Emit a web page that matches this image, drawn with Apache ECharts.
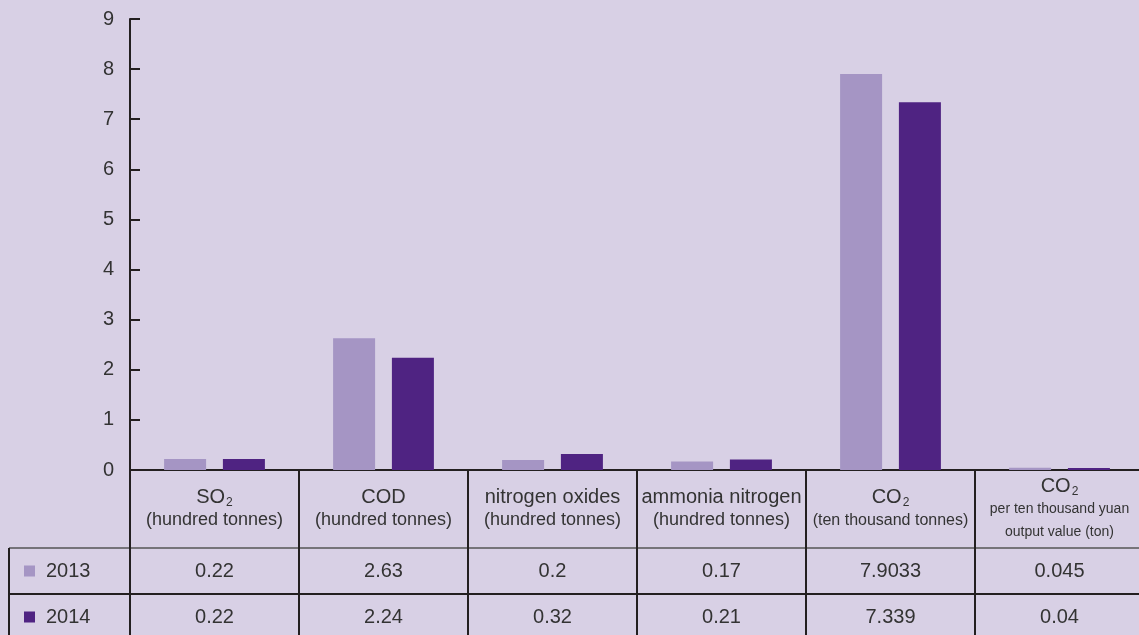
<!DOCTYPE html>
<html>
<head>
<meta charset="utf-8">
<script src="https://cdn.jsdelivr.net/npm/echarts@6/dist/echarts.min.js"></script>
<style>
html,body{margin:0;padding:0;background:#d8d0e5;}
#c{width:1139px;height:635px;}
</style>
</head>
<body>
<div id="c"></div>
<script>
// ---- data ----
const categoryKeys = ['SO2', 'COD', 'NOx', 'NH3-N', 'CO2', 'CO2 intensity'];
const categoryMain = ['SO', 'COD', 'nitrogen oxides', 'ammonia nitrogen', 'CO', 'CO'];
const categorySub = ['2', '', '', '', '2', '2'];
const categoryUnits = ['(hundred tonnes)', '(hundred tonnes)', '(hundred tonnes)', '(hundred tonnes)', '(ten thousand tonnes)', 'per ten thousand yuan\noutput value (ton)'];
const seriesNames = ['2013', '2014'];
const values2013 = [0.22, 2.63, 0.2, 0.17, 7.9033, 0.045];
const values2014 = [0.22, 2.24, 0.32, 0.21, 7.339, 0.04];
const yMin = 0, yMax = 9, yInterval = 1;

// ---- styles ----
const TXT = '#333333';
const LINE = '#231f20';
const FONT = '"Liberation Sans", Arial, sans-serif';
const C2013 = '#a595c4';
const C2014 = '#4f2382';

const unitStyleFor = function (i) {
  if (i === 5) return 'ux';
  if (i === 4) return 'us';
  return 'u';
};

const chart = echarts.init(document.getElementById('c'));
chart.setOption({
  backgroundColor: '#d8d0e5',
  textStyle: { fontFamily: FONT },
  animation: false,
  grid: { left: 130, right: -5, top: 19, bottom: 165, outerBoundsMode: 'none', containLabel: false },
  legend: [
    {
      data: [seriesNames[0]], left: 24, top: 561, padding: 0, icon: 'rect',
      itemWidth: 11, itemHeight: 11,
      textStyle: { fontSize: 20, color: TXT, fontFamily: FONT, padding: [0, 0, 0, 6] },
      selectedMode: false
    },
    {
      data: [seriesNames[1]], left: 24, top: 607, padding: 0, icon: 'rect',
      itemWidth: 11, itemHeight: 11,
      textStyle: { fontSize: 20, color: TXT, fontFamily: FONT, padding: [0, 0, 0, 6] },
      selectedMode: false
    }
  ],
  xAxis: [
    {
      type: 'category', data: categoryKeys, position: 'bottom',
      axisLine: { show: true, lineStyle: { color: LINE, width: 2 } },
      axisTick: { show: true, length: 78, interval: 0, lineStyle: { color: LINE, width: 2 } },
      axisLabel: {
        interval: 0, margin: 39, verticalAlign: 'middle', align: 'center',
        formatter: function (v, i) {
          const main = '{m|' + categoryMain[i] + '}' + (categorySub[i] ? '{s|' + categorySub[i] + '}' : '');
          const st = unitStyleFor(i);
          const units = categoryUnits[i].split('\n').map(function (t) { return '{' + st + '|' + t + '}'; }).join('\n');
          return main + '\n' + units;
        },
        rich: {
          m: { fontSize: 20, color: TXT, lineHeight: 23, fontFamily: FONT },
          s: { fontSize: 12, color: TXT, lineHeight: 23, verticalAlign: 'bottom', fontFamily: FONT, padding: [0, 0, 0, 1] },
          u: { fontSize: 18, color: TXT, lineHeight: 23, fontFamily: FONT },
          us: { fontSize: 16, color: TXT, lineHeight: 23, fontFamily: FONT },
          ux: { fontSize: 14, color: TXT, lineHeight: 23, fontFamily: FONT }
        }
      },
      splitLine: { show: false }
    },
    {
      type: 'category', data: categoryKeys, position: 'bottom', offset: 78,
      axisLine: { show: true, lineStyle: { color: '#555555', width: 1.5 } },
      axisTick: { show: true, length: 46, interval: 0, lineStyle: { color: LINE, width: 2 } },
      axisLabel: {
        interval: 0, margin: 23, verticalAlign: 'middle', fontSize: 20, color: TXT, fontFamily: FONT,
        formatter: function (v, i) { return String(values2013[i]); }
      },
      splitLine: { show: false }
    },
    {
      type: 'category', data: categoryKeys, position: 'bottom', offset: 124,
      axisLine: { show: true, lineStyle: { color: LINE, width: 2 } },
      axisTick: { show: true, length: 46, interval: 0, lineStyle: { color: LINE, width: 2 } },
      axisLabel: {
        interval: 0, margin: 23, verticalAlign: 'middle', fontSize: 20, color: TXT, fontFamily: FONT,
        formatter: function (v, i) { return String(values2014[i]); }
      },
      splitLine: { show: false }
    }
  ],
  yAxis: {
    type: 'value', min: yMin, max: yMax, interval: yInterval,
    axisLine: { show: true, lineStyle: { color: LINE, width: 2 } },
    axisTick: { show: true, inside: true, length: 10, lineStyle: { color: LINE, width: 2 } },
    axisLabel: { fontSize: 20, color: TXT, margin: 16, fontFamily: FONT },
    splitLine: { show: false }
  },
  graphic: [
    { type: 'line', shape: { x1: 9, y1: 548, x2: 130, y2: 548 }, style: { stroke: '#555555', lineWidth: 1.5 } },
    { type: 'line', shape: { x1: 9, y1: 594, x2: 130, y2: 594 }, style: { stroke: LINE, lineWidth: 2 } },
    { type: 'line', shape: { x1: 9, y1: 548, x2: 9, y2: 640 }, style: { stroke: LINE, lineWidth: 2 } }
  ],
  series: [
    {
      name: seriesNames[0], type: 'bar', data: values2013, xAxisIndex: 0,
      barWidth: 42, barGap: '40%', itemStyle: { color: C2013 }
    },
    {
      name: seriesNames[1], type: 'bar', data: values2014, xAxisIndex: 0,
      barWidth: 42, barGap: '40%', itemStyle: { color: C2014 }
    }
  ]
});
</script>
</body>
</html>
